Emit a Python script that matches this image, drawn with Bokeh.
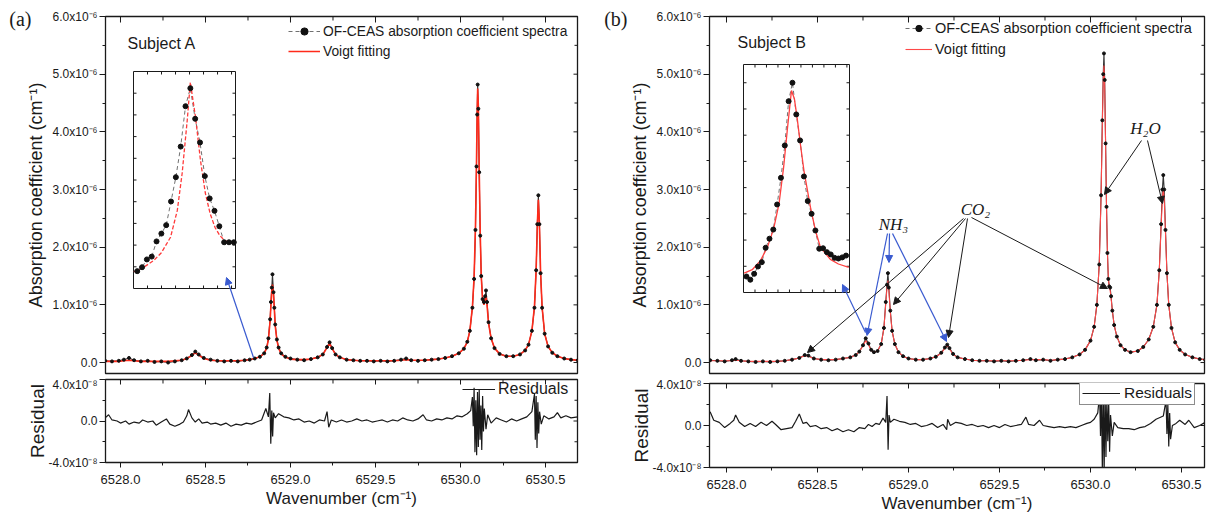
from bokeh.plotting import figure
from bokeh.layouts import row, column
from bokeh.models import (Range1d, LinearAxis, FixedTicker, CustomJSTickFormatter, PrintfTickFormatter,
                          Legend, LegendItem, Label, Arrow, NormalHead)
from bokeh.embed import file_html
from bokeh.resources import INLINE

SANS = "Liberation Sans"
SERIF = "Liberation Serif"
INK = "#1a1a1a"
RED_A = "#ff2a1a"
RED_B = "#ff4848"
BLUE = "#3a5bd0"

# ---------------- data (absorption in 1e-6 cm^-1, residual in 1e-8) ----------------
X_MAJOR = [6528.0, 6528.5, 6529.0, 6529.5, 6530.0, 6530.5]
X_MINOR = [6528.25, 6528.75, 6529.25, 6529.75, 6530.25]
Y_MAJOR = [0, 1, 2, 3, 4, 5, 6]
Y_MINOR = [0.5, 1.5, 2.5, 3.5, 4.5, 5.5]
R_MAJOR = [-4, 0, 4]
R_MINOR = [-2, 2]

# Panel (a) - Subject A spectrum
wn_a = [6527.91, 6527.95, 6527.99, 6528.02, 6528.05, 6528.08, 6528.12, 6528.16, 6528.20, 6528.24,
        6528.28, 6528.32, 6528.36, 6528.39, 6528.42, 6528.44, 6528.46, 6528.49, 6528.53, 6528.57,
        6528.61, 6528.65, 6528.69, 6528.73, 6528.76, 6528.79, 6528.82, 6528.845, 6528.86, 6528.87,
        6528.88, 6528.885, 6528.89, 6528.894, 6528.90, 6528.905, 6528.91, 6528.92, 6528.93, 6528.945,
        6528.97, 6529.00, 6529.04, 6529.08, 6529.12, 6529.16, 6529.19, 6529.215, 6529.23, 6529.245,
        6529.265, 6529.29, 6529.33, 6529.37, 6529.41, 6529.45, 6529.49, 6529.53, 6529.57, 6529.61,
        6529.65, 6529.68, 6529.71, 6529.75, 6529.79, 6529.83, 6529.87, 6529.91, 6529.95, 6529.99,
        6530.02, 6530.04, 6530.055, 6530.07, 6530.08, 6530.088, 6530.094, 6530.098, 6530.101, 6530.105,
        6530.11, 6530.116, 6530.122, 6530.13, 6530.138, 6530.145, 6530.15, 6530.156, 6530.165, 6530.18,
        6530.20, 6530.23, 6530.27, 6530.31, 6530.35, 6530.38, 6530.40, 6530.42, 6530.435, 6530.445,
        6530.452, 6530.458, 6530.464, 6530.471, 6530.48, 6530.495, 6530.515, 6530.54, 6530.57, 6530.61,
        6530.65, 6530.69]
spec_a = [0.03, 0.02, 0.03, 0.05, 0.08, 0.04, 0.02, 0.03, 0.01, 0.02,
          0.00, 0.02, 0.04, 0.07, 0.13, 0.19, 0.14, 0.08, 0.05, 0.03,
          0.02, 0.03, 0.02, 0.04, 0.05, 0.07, 0.10, 0.16, 0.26, 0.42,
          0.75, 1.05, 1.30, 1.53, 1.22, 0.95, 0.66, 0.40, 0.26, 0.16,
          0.10, 0.07, 0.05, 0.04, 0.06, 0.09, 0.14, 0.27, 0.35, 0.25,
          0.14, 0.09, 0.05, 0.04, 0.03, 0.03, 0.02, 0.03, 0.02, 0.03,
          0.05, 0.07, 0.04, 0.03, 0.04, 0.05, 0.06, 0.08, 0.11, 0.16,
          0.24, 0.36, 0.55, 0.95, 1.45, 2.30, 3.40, 4.30, 4.82, 4.40,
          3.30, 2.20, 1.50, 1.10, 1.05, 1.15, 1.25, 1.05, 0.70, 0.42,
          0.25, 0.15, 0.11, 0.11, 0.14, 0.21, 0.31, 0.55, 0.95, 1.60,
          2.40, 2.90, 2.40, 1.55, 0.95, 0.50, 0.28, 0.17, 0.11, 0.07,
          0.05, 0.04]
fit_a = [0.02, 0.02, 0.02, 0.03, 0.04, 0.03, 0.02, 0.02, 0.02, 0.02,
         0.02, 0.03, 0.04, 0.07, 0.12, 0.17, 0.13, 0.07, 0.04, 0.03,
         0.03, 0.03, 0.03, 0.04, 0.05, 0.07, 0.10, 0.16, 0.25, 0.40,
         0.72, 1.00, 1.25, 1.35, 1.18, 0.92, 0.64, 0.39, 0.25, 0.15,
         0.09, 0.06, 0.05, 0.05, 0.06, 0.09, 0.14, 0.26, 0.33, 0.24,
         0.14, 0.09, 0.05, 0.04, 0.03, 0.03, 0.03, 0.03, 0.03, 0.03,
         0.04, 0.05, 0.04, 0.04, 0.04, 0.05, 0.06, 0.08, 0.11, 0.16,
         0.24, 0.36, 0.55, 0.96, 1.48, 2.35, 3.45, 4.35, 4.75, 4.45,
         3.35, 2.25, 1.50, 1.08, 1.00, 1.10, 1.15, 1.00, 0.68, 0.42,
         0.25, 0.15, 0.11, 0.11, 0.14, 0.21, 0.31, 0.55, 0.97, 1.62,
         2.40, 2.82, 2.42, 1.57, 0.96, 0.50, 0.28, 0.17, 0.11, 0.07,
         0.05, 0.04]

# Panel (b) - Subject B spectrum
wn_b = [6527.91, 6527.95, 6527.99, 6528.03, 6528.05, 6528.08, 6528.12, 6528.16, 6528.20, 6528.24,
        6528.28, 6528.32, 6528.36, 6528.40, 6528.43, 6528.45, 6528.48, 6528.52, 6528.56, 6528.60,
        6528.64, 6528.68, 6528.71, 6528.73, 6528.75, 6528.765, 6528.78, 6528.795, 6528.81, 6528.83,
        6528.85, 6528.865, 6528.875, 6528.882, 6528.887, 6528.892, 6528.90, 6528.91, 6528.925, 6528.945,
        6528.97, 6529.00, 6529.04, 6529.08, 6529.12, 6529.15, 6529.18, 6529.20, 6529.213, 6529.225,
        6529.245, 6529.27, 6529.31, 6529.35, 6529.39, 6529.43, 6529.47, 6529.51, 6529.55, 6529.59,
        6529.63, 6529.67, 6529.70, 6529.74, 6529.78, 6529.82, 6529.86, 6529.90, 6529.94, 6529.97,
        6530.00, 6530.02, 6530.035, 6530.048, 6530.058, 6530.065, 6530.070, 6530.074, 6530.078, 6530.083,
        6530.088, 6530.093, 6530.098, 6530.103, 6530.108, 6530.113, 6530.12, 6530.13, 6530.145, 6530.165,
        6530.19, 6530.22, 6530.26, 6530.29, 6530.32, 6530.345, 6530.365, 6530.378, 6530.388, 6530.395,
        6530.400, 6530.405, 6530.412, 6530.42, 6530.43, 6530.445, 6530.465, 6530.49, 6530.52, 6530.56,
        6530.60, 6530.63]
spec_b = [0.04, 0.03, 0.02, 0.04, 0.06, 0.03, 0.02, 0.01, 0.02, 0.01,
          0.02, 0.03, 0.05, 0.08, 0.13, 0.12, 0.07, 0.05, 0.04, 0.05,
          0.07, 0.09, 0.13, 0.19, 0.30, 0.42, 0.33, 0.22, 0.18, 0.20,
          0.32, 0.60, 1.05, 1.35, 1.55, 1.30, 0.90, 0.55, 0.32, 0.18,
          0.11, 0.07, 0.05, 0.05, 0.07, 0.10, 0.17, 0.26, 0.31, 0.25,
          0.15, 0.09, 0.06, 0.04, 0.03, 0.03, 0.02, 0.03, 0.02, 0.03,
          0.04, 0.06, 0.04, 0.05, 0.03, 0.05, 0.06, 0.09, 0.14, 0.22,
          0.38, 0.62, 1.00, 1.70, 2.90, 4.20, 5.00, 5.36, 4.90, 3.80,
          2.70, 1.90, 1.45, 1.32, 1.30, 1.15, 0.90, 0.65, 0.45, 0.30,
          0.22, 0.18, 0.20, 0.27, 0.40, 0.62, 1.00, 1.60, 2.40, 3.00,
          3.25, 3.00, 2.30, 1.55, 1.00, 0.60, 0.35, 0.22, 0.14, 0.09,
          0.06, 0.05]
fit_b = [0.03, 0.03, 0.03, 0.03, 0.04, 0.03, 0.02, 0.02, 0.02, 0.02,
         0.02, 0.03, 0.05, 0.08, 0.12, 0.11, 0.07, 0.05, 0.05, 0.05,
         0.07, 0.09, 0.13, 0.19, 0.29, 0.38, 0.31, 0.21, 0.18, 0.20,
         0.32, 0.60, 1.02, 1.30, 1.42, 1.25, 0.88, 0.54, 0.32, 0.18,
         0.11, 0.07, 0.05, 0.05, 0.07, 0.10, 0.16, 0.25, 0.29, 0.24,
         0.14, 0.09, 0.06, 0.04, 0.03, 0.03, 0.03, 0.03, 0.03, 0.03,
         0.04, 0.05, 0.05, 0.05, 0.04, 0.05, 0.06, 0.09, 0.14, 0.22,
         0.38, 0.62, 1.00, 1.70, 2.85, 4.10, 4.90, 5.15, 4.80, 3.75,
         2.70, 1.92, 1.48, 1.30, 1.25, 1.12, 0.90, 0.65, 0.45, 0.30,
         0.22, 0.18, 0.20, 0.27, 0.40, 0.62, 1.00, 1.60, 2.35, 2.85,
         3.00, 2.85, 2.25, 1.55, 1.00, 0.60, 0.35, 0.22, 0.14, 0.09,
         0.06, 0.05]

# Residuals (a)
rwn_a = [6527.91, 6527.93, 6527.95, 6527.98, 6528.00, 6528.03, 6528.05, 6528.08, 6528.11, 6528.13,
         6528.16, 6528.19, 6528.21, 6528.24, 6528.27, 6528.29, 6528.32, 6528.35, 6528.37, 6528.39,
         6528.40, 6528.42, 6528.44, 6528.46, 6528.48, 6528.51, 6528.53, 6528.56, 6528.59, 6528.62,
         6528.65, 6528.68, 6528.71, 6528.74, 6528.77, 6528.80, 6528.83, 6528.855, 6528.87, 6528.878,
         6528.884, 6528.89, 6528.895, 6528.90, 6528.91, 6528.93, 6528.96, 6528.99, 6529.02, 6529.05,
         6529.08, 6529.11, 6529.14, 6529.17, 6529.20, 6529.215, 6529.225, 6529.24, 6529.27, 6529.30,
         6529.33, 6529.36, 6529.39, 6529.42, 6529.45, 6529.48, 6529.51, 6529.54, 6529.57, 6529.60,
         6529.63, 6529.66, 6529.69, 6529.72, 6529.75, 6529.78, 6529.80, 6529.83, 6529.86, 6529.89,
         6529.92, 6529.95, 6529.98, 6530.01, 6530.04, 6530.06, 6530.07, 6530.075, 6530.08, 6530.085,
         6530.09, 6530.095, 6530.10, 6530.105, 6530.11, 6530.115, 6530.12, 6530.125, 6530.13, 6530.135,
         6530.14, 6530.15, 6530.16, 6530.18, 6530.21, 6530.24, 6530.27, 6530.30, 6530.33, 6530.36,
         6530.39, 6530.42, 6530.435, 6530.44, 6530.445, 6530.45, 6530.455, 6530.46, 6530.465, 6530.475,
         6530.49, 6530.52, 6530.55, 6530.57, 6530.59, 6530.62, 6530.65, 6530.69]
res_a = [0.3, 0.6, 0.1, 0.0, -0.2, 0.0, -0.3, -0.1, -0.2, 0.1,
         -0.1, 0.0, -0.4, -0.1, 0.2, -0.3, -0.5, -0.3, -0.1, 0.5,
         1.1, 0.3, -0.1, 0.2, -0.2, -0.1, -0.3, -0.2, -0.4, -0.2,
         -0.5, -0.3, -0.4, -0.2, -0.3, -0.1, 0.1, 1.2, 0.4, 2.7,
         -2.2, 1.0, -1.5, 0.8, 0.3, 0.7, 0.4, 0.3, 0.1, 0.2,
         -0.1, 0.0, -0.2, 0.1, 0.0, 0.9, -0.6, 0.1, -0.1, 0.1,
         -0.1, 0.0, 0.2, 0.0, 0.1, -0.1, 0.0, 0.1, -0.1, 0.1,
         0.0, 0.3, 0.1, 0.0, 0.2, 0.6, 0.1, 0.0, 0.2, 0.1,
         0.3, 0.2, 0.5, 0.4, 0.7, 1.0, 2.3, -0.5, 3.2, -3.0,
         2.0, -3.3, 2.8, -2.5, 3.0, -1.8, 1.5, -2.8, 2.4, -1.0,
         1.2, -0.8, 0.6, -0.2, 0.3, 0.1, -0.1, 0.2, 0.0, 0.2,
         0.4, 0.9, 2.6, -1.8, 2.4, -2.6, 1.8, -1.2, 0.9, -0.3,
         0.5, 0.2, 0.4, 0.8, 0.3, 0.5, 0.3, 0.4]

# Residuals (b)
rwn_b = [6527.91, 6527.93, 6527.96, 6527.99, 6528.02, 6528.04, 6528.05, 6528.07, 6528.10, 6528.13,
         6528.16, 6528.19, 6528.22, 6528.25, 6528.27, 6528.30, 6528.33, 6528.36, 6528.38, 6528.40,
         6528.42, 6528.44, 6528.46, 6528.49, 6528.52, 6528.55, 6528.58, 6528.61, 6528.64, 6528.67,
         6528.70, 6528.73, 6528.76, 6528.78, 6528.80, 6528.82, 6528.84, 6528.86, 6528.875, 6528.882,
         6528.888, 6528.893, 6528.90, 6528.92, 6528.95, 6528.98, 6529.01, 6529.04, 6529.07, 6529.10,
         6529.13, 6529.16, 6529.19, 6529.21, 6529.215, 6529.23, 6529.26, 6529.29, 6529.32, 6529.35,
         6529.38, 6529.41, 6529.44, 6529.47, 6529.50, 6529.53, 6529.56, 6529.59, 6529.62, 6529.645,
         6529.66, 6529.69, 6529.72, 6529.74, 6529.77, 6529.80, 6529.83, 6529.86, 6529.89, 6529.92,
         6529.95, 6529.98, 6530.00, 6530.02, 6530.04, 6530.05, 6530.055, 6530.06, 6530.065, 6530.07,
         6530.075, 6530.08, 6530.085, 6530.09, 6530.095, 6530.10, 6530.105, 6530.11, 6530.12, 6530.13,
         6530.15, 6530.18, 6530.21, 6530.24, 6530.27, 6530.30, 6530.33, 6530.36, 6530.40, 6530.415,
         6530.42, 6530.425, 6530.43, 6530.435, 6530.44, 6530.45, 6530.47, 6530.49, 6530.52, 6530.54,
         6530.57, 6530.60, 6530.63]
res_b = [1.3, 0.5, 0.3, -0.2, 0.2, 0.5, 1.0, 0.3, -0.1, 0.2,
         -0.1, 0.3, 0.0, 0.4, 0.1, -0.4, -0.3, -0.2, 0.4, 1.1,
         0.2, 0.3, -0.1, 0.0, -0.3, -0.2, -0.5, -0.3, -0.6, -0.4,
         -0.6, -0.2, -0.3, 0.1, -0.1, 0.2, 0.1, 0.7, 0.3, 2.8,
         -2.3, 1.0, 0.3, 0.6, 0.4, 0.3, 0.1, 0.2, -0.1, 0.0,
         0.2, -0.2, 0.1, -0.4, 0.6, 0.0, 0.3, 0.2, 0.0, 0.1,
         -0.1, 0.0, -0.2, 0.0, -0.2, 0.1, -0.1, 0.0, 0.1, 0.8,
         0.1, 0.0, 0.5, 0.0, -0.1, -0.2, -0.1, -0.2, -0.1, -0.2,
         0.0, 0.2, 0.3, 0.6, 1.2, 3.0, -1.0, 3.5, -4.2, 3.0,
         -4.5, 3.6, -3.0, 2.6, -1.5, 2.2, -2.5, 1.0, -1.0, 0.3,
         -0.2, -0.3, -0.3, -0.4, -0.2, -0.1, 0.2, 0.6, 0.9, 2.4,
         -0.8, 2.0, -2.0, 1.2, -1.3, 0.0, 0.2, 0.5, 0.1, 0.5,
         -0.2, 0.0, 0.3]

# Insets (point index, arbitrary units)
ins_a_idx = [0, 1, 2, 3, 4, 5, 6, 7, 8, 9, 10, 11, 12, 13, 14, 15, 16, 17, 18, 19, 20]
ins_a_val = [0.80, 0.98, 1.34, 1.47, 2.17, 2.53, 2.92, 4.01, 5.13, 6.54, 8.40,
             9.23, 7.82, 6.73, 5.18, 4.15, 3.58, 2.87, 2.13, 2.13, 2.13]
ins_a_fit_idx = [-0.7, 0, 1.5, 3.4, 5, 6.9, 8.3, 9.3, 10.35, 11, 12.07, 13.1, 14.1, 15.1, 16.1, 17.1, 18.1, 19.1, 20]
ins_a_fit_val = [0.78, 0.82, 1.0, 1.29, 1.65, 2.36, 3.6, 5.3, 7.74, 9.5, 7.9, 5.9, 4.4, 3.45, 2.82, 2.44, 2.21, 2.13, 2.12]

ins_b_idx = [0, 1, 2, 3, 4, 5, 6, 7, 8, 9, 10, 11, 12, 13, 14, 15, 16, 17, 18, 19, 20, 21, 22, 23, 24, 25, 26]
ins_b_val = [0.70, 0.56, 0.82, 1.14, 1.33, 1.96, 2.36, 2.76, 3.86, 5.03, 6.45, 8.39, 9.20, 7.81,
             6.67, 5.09, 4.01, 3.45, 2.72, 1.92, 1.94, 1.77, 1.67, 1.52, 1.49, 1.54, 1.62]
ins_b_fit_idx = [-0.6, 1.5, 3.65, 5.5, 7.1, 8.5, 9.7, 10.7, 11.75, 12.5, 13.2, 14.0, 15.0, 16.7, 18.0, 19.3, 21.9, 24, 26.7]
ins_b_fit_val = [0.85, 1.0, 1.40, 2.0, 2.8, 3.9, 5.5, 7.2, 8.86, 8.5, 7.69, 6.6, 5.35, 3.74, 2.72, 1.99, 1.45, 1.25, 1.1]

for a_, b_ in [(wn_a, spec_a), (wn_a, fit_a), (wn_b, spec_b), (wn_b, fit_b), (rwn_a, res_a), (rwn_b, res_b),
               (ins_a_idx, ins_a_val), (ins_a_fit_idx, ins_a_fit_val), (ins_b_idx, ins_b_val),
               (ins_b_fit_idx, ins_b_fit_val)]:
    assert len(a_) == len(b_), (len(a_), len(b_))


# ---------------- geometry helpers (page pixel -> data) ----------------
class Geo:
    def __init__(self, left, right, top, bottom, x0, x1, y0, y1):
        self.left, self.right, self.top, self.bottom = left, right, top, bottom
        self.x0, self.x1, self.y0, self.y1 = x0, x1, y0, y1

    def x(self, px):
        return self.x0 + (px - self.left) / (self.right - self.left) * (self.x1 - self.x0)

    def y(self, py):
        return self.y0 + (self.bottom - py) / (self.bottom - self.top) * (self.y1 - self.y0)

    def dx(self, npx):
        return npx * (self.x1 - self.x0) / (self.right - self.left)

    def dy(self, npx):
        return npx * (self.y1 - self.y0) / (self.bottom - self.top)


XA = (6527.9118, 6530.6882)
XB = (6527.9066, 6530.6264)
GA = Geo(105, 577, 16, 373, XA[0], XA[1], -0.19, 6.0)
GB = Geo(709, 1204, 16, 373, XB[0], XB[1], -0.19, 6.0)
RA = Geo(105, 577, 379, 462, XA[0], XA[1], -4, 4)
RB = Geo(709, 1204, 383, 467, XB[0], XB[1], -4, 4)


def style_axis(ax, tout, mtout, size, standoff):
    ax.major_tick_in = 0
    ax.major_tick_out = tout
    ax.minor_tick_in = 0
    ax.minor_tick_out = mtout
    ax.axis_line_color = INK
    ax.major_tick_line_color = INK
    ax.minor_tick_line_color = INK
    ax.major_label_text_font = SANS
    ax.major_label_text_font_size = size
    ax.major_label_text_color = INK
    ax.major_label_standoff = standoff


def axis_title(ax, text, size, standoff):
    ax.axis_label = text
    ax.axis_label_text_font = SANS
    ax.axis_label_text_font_size = size
    ax.axis_label_text_font_style = "normal"
    ax.axis_label_text_color = INK
    ax.axis_label_standoff = standoff


def inner_ticks(p, G, top=None, right=None):
    # tick marks drawn inside the frame (top / right edges)
    for vals, n in (top or []):
        p.segment(x0=vals, y0=[G.y1] * len(vals), x1=vals, y1=[G.y1 - G.dy(n)] * len(vals),
                  line_color=INK, line_width=1)
    for vals, n in (right or []):
        p.segment(x0=[G.x1] * len(vals), y0=vals, x1=[G.x1 - G.dx(n)] * len(vals), y1=vals,
                  line_color=INK, line_width=1)


SUP6 = "x10\u207b\u2076"
SUP8 = "x10\u207b\u2078"


def base_fig(G, fw, fh, bl, br, bt, bb, x_axis):
    p = figure(frame_width=fw, frame_height=fh, x_range=Range1d(G.x0, G.x1), y_range=Range1d(G.y0, G.y1),
               min_border_left=bl, min_border_right=br, min_border_top=bt, min_border_bottom=bb,
               output_backend="svg", toolbar_location=None, tools="",
               x_axis_location="below" if x_axis else None)
    p.grid.visible = False
    p.outline_line_color = INK
    p.outline_line_width = 1.3
    p.background_fill_color = "white"
    p.border_fill_color = "white"
    return p


def make_main(G, fw, bl, br, tag, tag_standoff):
    p = base_fig(G, fw, 357, bl, br, 16, 4, False)
    ya = p.yaxis[0]
    ya.ticker = FixedTicker(ticks=Y_MAJOR, minor_ticks=Y_MINOR)
    ya.formatter = CustomJSTickFormatter(code="return tick == 0 ? '0.0' : tick.toFixed(1) + '%s';" % SUP6)
    style_axis(ya, 6, 3, "12px", 2)
    axis_title(ya, "Absorption coefficient (cm\u207b\u00b9)", "18px", 4)
    # panel tag "(a)"/"(b)": a bare outer axis whose single tick label is the tag (top-left corner)
    tag_ax = LinearAxis(ticker=FixedTicker(ticks=[G.y(18)], minor_ticks=[]),
                        formatter=CustomJSTickFormatter(code="return '%s';" % tag))
    tag_ax.axis_line_color = None
    tag_ax.major_tick_line_color = None
    tag_ax.minor_tick_line_color = None
    tag_ax.major_tick_in = 0
    tag_ax.major_tick_out = 0
    tag_ax.minor_tick_in = 0
    tag_ax.minor_tick_out = 0
    tag_ax.major_label_text_font = SERIF
    tag_ax.major_label_text_font_size = "20px"
    tag_ax.major_label_text_color = INK
    tag_ax.major_label_standoff = tag_standoff
    p.add_layout(tag_ax, "left")
    inner_ticks(p, G, top=[(X_MAJOR, 6), (X_MINOR, 4)], right=[(Y_MAJOR, 4), (Y_MINOR, 3)])
    return p


def make_resid(G, fw, fh, bl, br, bt, bb):
    r = base_fig(G, fw, fh, bl, br, bt, bb, True)
    xa = r.xaxis[0]
    xa.ticker = FixedTicker(ticks=X_MAJOR, minor_ticks=X_MINOR)
    xa.formatter = PrintfTickFormatter(format="%.1f")
    style_axis(xa, 5, 3, "13px", 7)
    axis_title(xa, "Wavenumber (cm\u207b\u00b9)", "17px", 2)
    ya = r.yaxis[0]
    ya.ticker = FixedTicker(ticks=R_MAJOR, minor_ticks=R_MINOR)
    ya.formatter = CustomJSTickFormatter(code="return tick == 0 ? '0.0' : tick.toFixed(1) + '%s';" % SUP8)
    style_axis(ya, 6, 3, "12px", 2)
    axis_title(ya, "Residual", "19px", -3)
    inner_ticks(r, G, top=[(X_MAJOR, 5), (X_MINOR, 4)], right=[(R_MAJOR, 4), (R_MINOR, 3)])
    return r


def add_inset(p, G, box, xs, ys, xt_step, yt_step, dx_i, dy_i, fx, fy, fit_color, fit_dash):
    left, right, top, bottom = box
    sub = p.subplot(x_source=Range1d(*xs), y_source=Range1d(*ys),
                    x_target=Range1d(G.x(left), G.x(right)), y_target=Range1d(G.y(bottom), G.y(top)))
    sub.quad(left=[xs[0]], right=[xs[1]], bottom=[ys[0]], top=[ys[1]],
             fill_color="white", line_color=INK, line_width=1)
    tlx = 3.0 * (xs[1] - xs[0]) / (right - left)
    tly = 3.0 * (ys[1] - ys[0]) / (bottom - top)
    tx = []
    k = 1
    while xs[0] + k * xt_step < xs[1] - 0.1:
        tx.append(xs[0] + k * xt_step)
        k += 1
    ty = []
    k = 1
    while ys[0] + k * yt_step < ys[1] - 0.05:
        ty.append(ys[0] + k * yt_step)
        k += 1
    n, m = len(tx), len(ty)
    sub.segment(x0=tx, y0=[ys[1]] * n, x1=tx, y1=[ys[1] - tly] * n, line_color=INK, line_width=1)
    sub.segment(x0=tx, y0=[ys[0]] * n, x1=tx, y1=[ys[0] + tly] * n, line_color=INK, line_width=1)
    sub.segment(x0=[xs[0]] * m, y0=ty, x1=[xs[0] + tlx] * m, y1=ty, line_color=INK, line_width=1)
    sub.segment(x0=[xs[1]] * m, y0=ty, x1=[xs[1] - tlx] * m, y1=ty, line_color=INK, line_width=1)
    ln = sub.line(dx_i, dy_i, line_color="#707070", line_width=1, line_dash="4 3")
    sub.line(fx, fy, line_color=fit_color, line_width=1.3, line_dash=fit_dash)
    dots = sub.scatter(dx_i, dy_i, size=5, color="#111111")
    return ln, dots


def add_text(p, G, px, py, text, font, size, style="normal", align="left", color=INK):
    p.add_layout(Label(x=G.x(px), y=G.y(py), text=text, text_font=font, text_font_size=size,
                       text_font_style=style, text_align=align, text_baseline="middle", text_color=color))


def add_arrow(p, G, p0, p1, color, width=1.0, size=7):
    p.add_layout(Arrow(end=NormalHead(size=size, fill_color=color, line_color=color, line_width=1),
                       x_start=G.x(p0[0]), y_start=G.y(p0[1]), x_end=G.x(p1[0]), y_end=G.y(p1[1]),
                       line_color=color, line_width=width))


# ---------------- panel (a) ----------------
pa = make_main(GA, 472, 105, 21, "(a)", -9)
pa.line(wn_a, spec_a, line_color="#333333", line_width=1.1)
red_a = pa.line(wn_a, fit_a, line_color=RED_A, line_width=1.6)
pa.scatter(wn_a, spec_a, size=3, color="#111111")
ia_line, ia_dots = add_inset(pa, GA, (133, 235, 71, 288), (-0.77, 20.35), (0, 10), 2.9, 1.0,
                             ins_a_idx, ins_a_val, ins_a_fit_idx, ins_a_fit_val, "#ff3a3a", "4 2")
leg_a = Legend(items=[LegendItem(label="OF-CEAS absorption coefficient spectra", renderers=[ia_line, ia_dots]),
                      LegendItem(label="Voigt fitting", renderers=[red_a])],
               location=(288 - GA.left, GA.bottom - 60), border_line_color=None, background_fill_alpha=0,
               label_text_font=SANS, label_text_font_size="13.8px", label_text_color=INK,
               glyph_width=32, glyph_height=18, label_height=18, spacing=2, padding=0, margin=0,
               label_standoff=3)
pa.add_layout(leg_a)
add_text(pa, GA, 127, 43, "Subject A", SANS, "16px")
add_arrow(pa, GA, (253, 357), (226, 277), BLUE, 1.2)

ra = make_resid(RA, 472, 83, 105, 21, 2, 55)
ra.x_range = pa.x_range
res_line_a = ra.line(rwn_a, res_a, line_color=INK, line_width=1.2)
leg_ra = Legend(items=[LegendItem(label="Residuals", renderers=[res_line_a])],
                location=(462 - RA.left, RA.bottom - 398), border_line_color=None, background_fill_alpha=0,
                label_text_font=SANS, label_text_font_size="16px", label_text_color=INK,
                glyph_width=33, glyph_height=18, label_height=18, padding=0, margin=0, label_standoff=3)
ra.add_layout(leg_ra)

# ---------------- panel (b) ----------------
pb = make_main(GB, 495, 111, 8, "(b)", -1)
pb.line(wn_b, spec_b, line_color="#333333", line_width=1.1)
red_b = pb.line(wn_b, fit_b, line_color=RED_B, line_width=1.1)
pb.scatter(wn_b, spec_b, size=3, color="#111111")
ib_line, ib_dots = add_inset(pb, GB, (743, 849, 64, 292), (-0.78, 26.9), (0, 10), 3.0, 1.15,
                             ins_b_idx, ins_b_val, ins_b_fit_idx, ins_b_fit_val, "#ff4040", "solid")
leg_b = Legend(items=[LegendItem(label="OF-CEAS absorption coefficient spectra", renderers=[ib_line, ib_dots]),
                      LegendItem(label="Voigt fitting", renderers=[red_b])],
               location=(905 - GB.left, GB.bottom - 57), border_line_color=None, background_fill_alpha=0,
               label_text_font=SANS, label_text_font_size="14.5px", label_text_color=INK,
               glyph_width=27, glyph_height=16, label_height=16, spacing=5, padding=0, margin=0,
               label_standoff=3)
pb.add_layout(leg_b)
add_text(pb, GB, 737, 42, "Subject B", SANS, "16px")
add_arrow(pb, GB, (865, 332), (842, 284), BLUE, 1.2)
add_text(pb, GB, 893, 224, "NH\u2083", SERIF, "17px", style="italic", align="center")
add_arrow(pb, GB, (887, 233), (866.5, 335), BLUE, 1.2)
add_arrow(pb, GB, (889, 233), (888.5, 262), BLUE, 1.2)
add_arrow(pb, GB, (892, 233), (946, 341), BLUE, 1.2)
add_text(pb, GB, 975, 209, "CO\u2082", SERIF, "17px", style="italic", align="center")
add_arrow(pb, GB, (963, 218), (807, 352), INK, 1.0)
add_arrow(pb, GB, (965, 218), (893, 304), INK, 1.0)
add_arrow(pb, GB, (967, 218), (948, 337), INK, 1.0)
add_arrow(pb, GB, (971, 217), (1107, 288), INK, 1.0)
add_text(pb, GB, 1145, 128, "H\u2082O", SERIF, "17px", style="italic", align="center")
add_arrow(pb, GB, (1141, 140), (1104, 194), INK, 1.0)
add_arrow(pb, GB, (1147, 140), (1162, 203), INK, 1.0)

rb = make_resid(RB, 495, 84, 111, 8, 6, 50)
rb.x_range = pb.x_range
res_line_b = rb.line(rwn_b, res_b, line_color=INK, line_width=1.2)
leg_rb = Legend(items=[LegendItem(label="Residuals", renderers=[res_line_b])],
                location=(1079 - RB.left, RB.bottom - 405), border_line_color=INK, border_line_width=1,
                background_fill_color="white", background_fill_alpha=1,
                label_text_font=SANS, label_text_font_size="15.5px", label_text_color=INK,
                glyph_width=38, glyph_height=16, label_height=16, padding=2, margin=0, label_standoff=4)
rb.add_layout(leg_rb)

layout = row(column(pa, ra, spacing=0), column(pb, rb, spacing=0), spacing=0)
with open("out.html", "w", encoding="utf-8") as f:
    f.write(file_html(layout, INLINE))
